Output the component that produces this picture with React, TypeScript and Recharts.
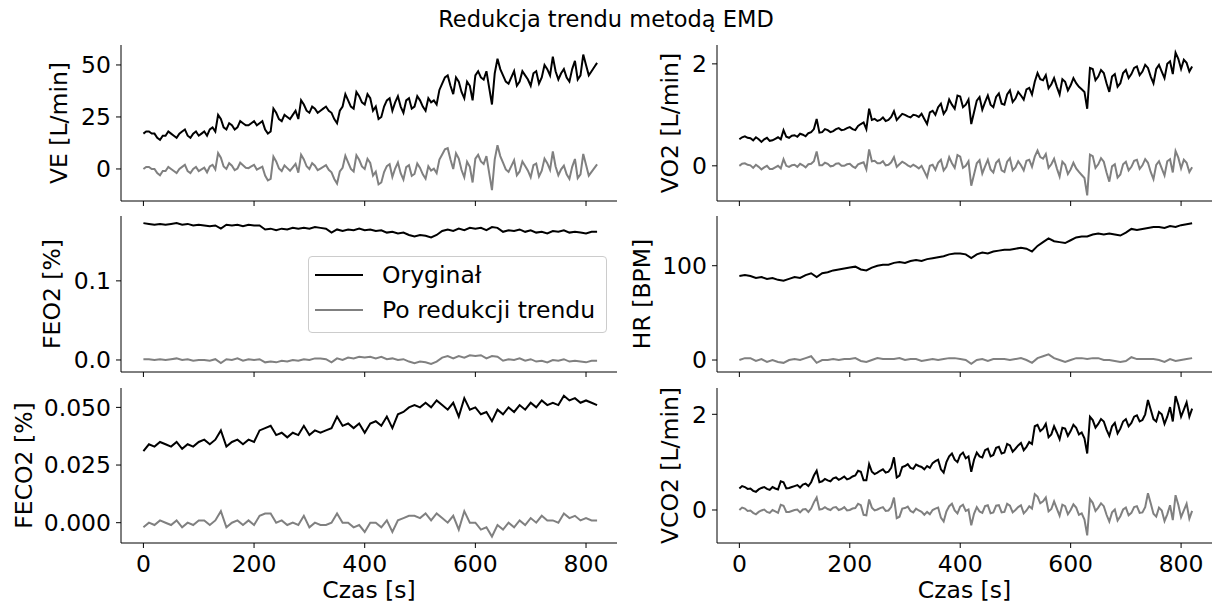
import React from 'react';
import { LineChart, Line, XAxis, YAxis, Legend } from 'recharts';

const FONT = '"DejaVu Sans", sans-serif';

const TITLE = 'Redukcja trendu metodą EMD';
const X_LABEL = 'Czas [s]';
const SERIES_NAMES = ['Oryginał', 'Po redukcji trendu'];
const X_TICKS = [0, 200, 400, 600, 800];

// 10-second sampling (FEO2, HR, FECO2)
const TIME_10 = [
  0, 10, 20, 30, 40, 50, 60, 70, 80, 90,
  100, 110, 120, 130, 140, 150, 160, 170, 180, 190,
  200, 210, 220, 230, 240, 250, 260, 270, 280, 290,
  300, 310, 320, 330, 340, 350, 360, 370, 380, 390,
  400, 410, 420, 430, 440, 450, 460, 470, 480, 490,
  500, 510, 520, 530, 540, 550, 560, 570, 580, 590,
  600, 610, 620, 630, 640, 650, 660, 670, 680, 690,
  700, 710, 720, 730, 740, 750, 760, 770, 780, 790,
  800, 810, 820,
];

// 5-second sampling (VE, VO2, VCO2)
const TIME_5 = [
  0, 5, 10, 15, 20, 25, 30, 35, 40, 45, 50, 55, 60, 65, 70, 75, 80, 85, 90, 95,
  100, 105, 110, 115, 120, 125, 130, 135, 140, 145, 150, 155, 160, 165, 170, 175, 180, 185, 190, 195,
  200, 205, 210, 215, 220, 225, 230, 235, 240, 245, 250, 255, 260, 265, 270, 275, 280, 285, 290, 295,
  300, 305, 310, 315, 320, 325, 330, 335, 340, 345, 350, 355, 360, 365, 370, 375, 380, 385, 390, 395,
  400, 405, 410, 415, 420, 425, 430, 435, 440, 445, 450, 455, 460, 465, 470, 475, 480, 485, 490, 495,
  500, 505, 510, 515, 520, 525, 530, 535, 540, 545, 550, 555, 560, 565, 570, 575, 580, 585, 590, 595,
  600, 605, 610, 615, 620, 625, 630, 635, 640, 645, 650, 655, 660, 665, 670, 675, 680, 685, 690, 695,
  700, 705, 710, 715, 720, 725, 730, 735, 740, 745, 750, 755, 760, 765, 770, 775, 780, 785, 790, 795,
  800, 805, 810, 815, 820,
];

const VE_ORIG = [
  17, 18, 18, 17, 17, 15, 14, 16, 16, 18, 17, 16, 15, 17, 18, 19, 16, 15, 17, 18,
  16, 17, 18, 16, 19, 20, 18, 26, 24, 20, 19, 22, 21, 19, 20, 23, 22, 21, 21, 22,
  23, 21, 22, 23, 19, 17, 18, 29, 27, 24, 23, 26, 25, 24, 26, 28, 24, 33, 31, 28,
  27, 30, 29, 27, 28, 29, 30, 28, 27, 24, 22, 28, 30, 36, 33, 30, 29, 37, 35, 32,
  31, 36, 34, 28, 30, 24, 25, 30, 33, 34, 28, 32, 35, 30, 27, 33, 34, 29, 30, 35,
  33, 30, 28, 34, 32, 33, 31, 38, 41, 44, 45, 40, 36, 44, 42, 37, 34, 42, 40, 33,
  45, 47, 44, 43, 47, 39, 31, 46, 53, 48, 45, 42, 41, 44, 47, 40, 42, 47, 45, 43,
  40, 46, 47, 41, 44, 50, 48, 45, 54, 47, 43, 46, 48, 44, 42, 48, 52, 43, 45, 55,
  50, 45, 47, 49, 51,
];
const VE_DET = [
  0, 1, 1, 0, 0, -2, -3, -1, -1, 1, 0, -1, -2, 0, 1, 2, -1, -2, 0, 1,
  -1, -0.2, 0.6, -1.6, 1.2, 2, -0.2, 7.6, 5.4, 1.2, 0, 2.8, 1.6, -0.6, 0.2, 3, 1.8, 0.6, 0.4, 1.2,
  2, -0.3, 0.4, 1.1, -3.2, -5.5, -4.8, 5.9, 3.6, 0.3, -1, 1.7, 0.4, -0.9, 0.8, 2.5, -1.8, 6.9, 4.6, 1.3,
  0, 2.8, 1.6, -0.6, 0.2, 1, 1.8, -0.4, -1.6, -4.8, -7, -1.2, 0.6, 6.4, 3.2, 0, -1.2, 6.6, 4.4, 1.2,
  0, 4.9, 2.9, -3.2, -1.3, -7.4, -6.5, -1.5, 1.4, 2.3, -3.8, 0.2, 3.1, -2, -5.1, 0.9, 1.8, -3.3, -2.4, 2.6,
  0.5, -2.6, -4.7, 1.3, -0.8, 0.1, -2, 4.5, 7, 9.5, 10, 4.5, 0, 7.5, 5, -0.5, -4, 3.5, 1, -6.5,
  5, 6.8, 3.6, 2.4, 6.2, -2, -10.2, 4.6, 11.4, 6.2, 3, -0.2, -1.4, 1.4, 4.2, -3, -1.2, 3.6, 1.4, -0.8,
  -4, 1.8, 2.6, -3.6, -0.8, 5, 2.8, -0.4, 8.4, 1.2, -3, -0.2, 1.6, -2.6, -4.8, 1, 4.8, -4.4, -2.6, 7.2,
  2, -3.2, -1.4, 0.4, 2.2,
];

const VO2_ORIG = [
  0.52, 0.56, 0.58, 0.55, 0.54, 0.50, 0.56, 0.52, 0.47, 0.52, 0.55, 0.49, 0.50, 0.53, 0.56, 0.52, 0.70, 0.57, 0.55, 0.59,
  0.60, 0.57, 0.63, 0.61, 0.58, 0.64, 0.66, 0.72, 0.92, 0.65, 0.66, 0.72, 0.70, 0.66, 0.68, 0.72, 0.74, 0.70, 0.71, 0.74,
  0.76, 0.72, 0.70, 0.78, 0.82, 0.85, 0.72, 1.12, 0.90, 0.92, 0.88, 0.90, 0.95, 0.88, 0.90, 0.96, 1.07, 0.90, 0.96, 1.02,
  1.00, 0.97, 0.95, 1.00, 0.99, 0.96, 1.02, 0.92, 0.82, 1.05, 1.08, 1.00, 1.15, 1.22, 1.02, 1.10, 1.30, 1.20, 1.12, 1.38,
  1.36, 1.15, 1.20, 1.30, 0.82, 1.05, 1.28, 1.35, 1.10, 1.25, 1.38, 1.20, 1.15, 1.35, 1.42, 1.22, 1.20, 1.40, 1.48, 1.25,
  1.32, 1.45, 1.38, 1.30, 1.50, 1.53, 1.40, 1.65, 1.82, 1.70, 1.68, 1.78, 1.52, 1.60, 1.72, 1.55, 1.40, 1.70, 1.65, 1.48,
  1.58, 1.72, 1.62, 1.55, 1.50, 1.45, 1.12, 1.92, 1.90, 1.68, 1.75, 1.88, 1.82, 1.62, 1.45, 1.75, 1.80, 1.55, 1.62, 1.82,
  1.88, 1.72, 1.80, 1.92, 1.95, 1.78, 1.85, 1.98, 1.92, 1.75, 1.62, 1.90, 1.98, 1.85, 1.72, 2.00, 2.05, 1.80, 2.22, 2.10,
  1.90, 2.08, 2.02, 1.85, 1.95,
];
const VO2_DET = [
  0.00, 0.04, 0.05, 0.02, 0.01, -0.04, 0.02, -0.02, -0.07, -0.03, 0.00, -0.06, -0.06, -0.03, 0.00, -0.05, 0.13, 0.00, -0.02, 0.01,
  0.02, -0.02, 0.04, 0.01, -0.03, 0.03, 0.04, 0.09, 0.28, 0.01, 0.01, 0.06, 0.04, -0.01, 0.00, 0.04, 0.05, 0.00, 0.00, 0.03,
  0.04, -0.01, -0.04, 0.03, 0.05, 0.07, -0.07, 0.32, 0.09, 0.10, 0.05, 0.05, 0.09, 0.01, 0.02, 0.07, 0.17, -0.02, 0.03, 0.08,
  0.05, 0.01, -0.02, 0.02, -0.01, -0.05, 0.00, -0.11, -0.22, 0.00, 0.02, -0.08, 0.06, 0.12, -0.09, -0.02, 0.17, 0.05, -0.04, 0.21,
  0.18, -0.04, 0.00, 0.09, -0.39, -0.17, 0.05, 0.11, -0.15, -0.01, 0.12, -0.07, -0.13, 0.06, 0.12, -0.09, -0.12, 0.08, 0.15, -0.09,
  -0.03, 0.09, 0.01, -0.09, 0.10, 0.12, -0.02, 0.18, 0.30, 0.17, 0.14, 0.23, -0.04, 0.03, 0.14, -0.05, -0.21, 0.08, 0.02, -0.16,
  -0.07, 0.06, -0.05, -0.12, -0.18, -0.24, -0.58, 0.22, 0.19, -0.04, 0.03, 0.15, 0.08, -0.13, -0.31, -0.01, 0.03, -0.23, -0.17, 0.03,
  0.08, -0.09, -0.02, 0.10, 0.12, -0.06, 0.01, 0.13, 0.06, -0.12, -0.26, 0.02, 0.09, -0.05, -0.19, 0.09, 0.13, -0.13, 0.29, 0.16,
  -0.05, 0.12, 0.06, -0.12, -0.03,
];

const VCO2_ORIG = [
  0.45, 0.50, 0.48, 0.44, 0.45, 0.40, 0.38, 0.43, 0.46, 0.48, 0.44, 0.42, 0.48, 0.45, 0.43, 0.60, 0.58, 0.45, 0.46, 0.48,
  0.50, 0.52, 0.47, 0.53, 0.55, 0.50, 0.58, 0.72, 0.82, 0.58, 0.60, 0.65, 0.62, 0.60, 0.66, 0.68, 0.63, 0.66, 0.70, 0.64,
  0.66, 0.70, 0.72, 0.82, 0.80, 0.62, 0.62, 0.96, 0.80, 0.75, 0.78, 0.82, 0.85, 0.78, 0.80, 0.88, 1.10, 0.68, 0.72, 0.90,
  0.92, 0.96, 0.88, 0.86, 0.95, 0.92, 0.90, 0.85, 0.92, 0.88, 0.98, 1.02, 1.05, 0.85, 0.78, 1.00, 1.12, 1.18, 1.05, 1.00,
  1.15, 1.20, 1.08, 1.12, 0.80, 1.05, 1.20, 1.12, 1.10, 1.25, 1.28, 1.12, 1.15, 1.30, 1.32, 1.18, 1.20, 1.38, 1.35, 1.22,
  1.28, 1.35, 1.40, 1.25, 1.32, 1.42, 1.38, 1.75, 1.78, 1.65, 1.70, 1.80, 1.52, 1.58, 1.75, 1.62, 1.48, 1.72, 1.70, 1.55,
  1.65, 1.78, 1.72, 1.58, 1.62, 1.50, 1.18, 1.95, 1.88, 1.72, 1.80, 1.90, 1.85, 1.68, 1.55, 1.75, 1.82, 1.60, 1.70, 1.85,
  1.90, 1.75, 1.82, 1.95, 1.98, 1.85, 1.88, 2.00, 2.30, 2.10, 1.90, 1.85, 2.05, 2.00, 1.80, 1.95, 2.15, 1.85, 2.38, 2.20,
  1.95, 2.10, 2.25, 1.95, 2.12,
];
const VCO2_DET = [
  0.00, 0.05, 0.03, -0.02, -0.01, -0.06, -0.09, -0.04, -0.01, 0.01, -0.04, -0.06, 0.00, -0.03, -0.06, 0.11, 0.09, -0.04, -0.04, -0.02,
  0.00, 0.01, -0.05, 0.01, 0.02, -0.04, 0.03, 0.16, 0.26, 0.01, 0.02, 0.06, 0.02, 0.00, 0.05, 0.06, 0.00, 0.02, 0.06, -0.01,
  0.00, 0.03, 0.04, 0.13, 0.10, -0.10, -0.11, 0.22, 0.05, -0.01, 0.01, 0.04, 0.06, -0.02, -0.01, 0.06, 0.26, -0.17, -0.14, 0.03,
  0.04, 0.07, -0.02, -0.05, 0.03, -0.01, -0.04, -0.10, -0.04, -0.09, 0.00, 0.03, 0.05, -0.16, -0.24, -0.03, 0.08, 0.13, -0.01, -0.07,
  0.07, 0.11, -0.02, 0.01, -0.32, -0.08, 0.06, -0.03, -0.06, 0.08, 0.10, -0.07, -0.05, 0.09, 0.10, -0.05, -0.04, 0.13, 0.09, -0.05,
  0.00, 0.06, 0.10, -0.07, -0.01, 0.08, 0.03, 0.33, 0.28, 0.14, 0.18, 0.26, -0.03, 0.02, 0.18, 0.03, -0.12, 0.11, 0.08, -0.09,
  0.00, 0.12, 0.05, -0.10, -0.07, -0.20, -0.53, 0.23, 0.15, -0.02, 0.05, 0.14, 0.08, -0.10, -0.24, -0.05, 0.01, -0.22, -0.13, 0.01,
  0.05, -0.11, -0.06, 0.06, 0.08, -0.06, -0.05, 0.06, 0.35, 0.14, -0.08, -0.14, 0.05, -0.01, -0.23, -0.09, 0.10, -0.21, 0.31, 0.11,
  -0.15, -0.01, 0.13, -0.18, -0.02,
];

const FEO2_ORIG = [
  0.173, 0.172, 0.171, 0.172, 0.171, 0.172, 0.173, 0.171, 0.172, 0.170,
  0.171, 0.170, 0.169, 0.170, 0.166, 0.171, 0.170, 0.171, 0.169, 0.171,
  0.170, 0.170, 0.165, 0.166, 0.164, 0.166, 0.165, 0.167, 0.166, 0.167,
  0.166, 0.168, 0.167, 0.166, 0.161, 0.165, 0.163, 0.165, 0.164, 0.166,
  0.164, 0.165, 0.163, 0.164, 0.161, 0.162, 0.160, 0.161, 0.158, 0.156,
  0.158, 0.157, 0.155, 0.158, 0.163, 0.165, 0.163, 0.166, 0.164, 0.167,
  0.166, 0.167, 0.164, 0.168, 0.167, 0.162, 0.164, 0.163, 0.165, 0.162,
  0.164, 0.161, 0.162, 0.160, 0.163, 0.162, 0.164, 0.161, 0.162, 0.161,
  0.160, 0.162, 0.162,
];
const FEO2_DET = [
  0.001, 0.001, 0.000, 0.001, 0.000, 0.001, 0.002, 0.000, 0.001, -0.001,
  0.000, 0.000, -0.001, 0.001, -0.004, 0.001, 0.000, 0.002, -0.001, 0.001,
  0.000, 0.001, -0.003, -0.002, -0.003, -0.001, -0.002, 0.000, -0.001, 0.001,
  0.000, 0.002, 0.002, 0.001, -0.003, 0.002, 0.000, 0.003, 0.002, 0.004,
  0.003, 0.004, 0.002, 0.004, 0.001, 0.002, 0.000, 0.001, -0.002, -0.004,
  -0.002, -0.003, -0.005, -0.002, 0.003, 0.005, 0.002, 0.005, 0.003, 0.006,
  0.005, 0.006, 0.002, 0.005, 0.004, -0.001, 0.001, 0.000, 0.002, -0.001,
  0.001, -0.002, -0.001, -0.003, 0.000, -0.001, 0.001, -0.002, -0.001, -0.002,
  -0.003, -0.001, -0.001,
];

const HR_ORIG = [
  89, 90, 89, 87, 88, 86, 87, 85, 84, 86,
  88, 87, 90, 92, 88, 92, 93, 95, 96, 97,
  98, 99, 96, 95, 98, 100, 101, 101, 103, 104,
  103, 105, 106, 105, 107, 108, 109, 110, 112, 113,
  113, 112, 108, 112, 114, 113, 115, 116, 117, 117,
  118, 119, 118, 115, 121, 125, 129, 126, 125, 124,
  127, 130, 131, 131, 133, 134, 133, 134, 133, 132,
  135, 139, 138, 139, 140, 141, 141, 140, 142, 141,
  143, 144, 145,
];
const HR_DET = [
  0, 2, 2, -1, 1, -2, 0, -2, -3, 0,
  1, 0, 2, 4, -3, 0, 0, 1, 0, 1,
  1, 2, -1, -2, 0, 2, 1, 1, 1, 2,
  0, 1, 1, -1, 0, 1, 0, 1, 2, 2,
  1, 0, -4, 0, 1, -1, 1, 1, 1, 0,
  1, 2, 0, -3, 2, 4, 6, 2, 0, -2,
  0, 2, 2, 1, 2, 2, 0, 0, -1, -2,
  -1, 3, 1, 1, 1, 1, 0, -2, 1, -1,
  0, 1, 2,
];

const FECO2_ORIG = [
  0.031, 0.034, 0.033, 0.035, 0.034, 0.033, 0.035, 0.032, 0.034, 0.033,
  0.035, 0.036, 0.034, 0.036, 0.040, 0.033, 0.035, 0.036, 0.034, 0.036,
  0.035, 0.040, 0.041, 0.042, 0.038, 0.039, 0.037, 0.039, 0.038, 0.042,
  0.038, 0.040, 0.039, 0.040, 0.041, 0.046, 0.042, 0.043, 0.041, 0.043,
  0.039, 0.043, 0.044, 0.042, 0.046, 0.041, 0.047, 0.048, 0.050, 0.051,
  0.050, 0.052, 0.050, 0.053, 0.051, 0.049, 0.052, 0.046, 0.054, 0.049,
  0.050, 0.047, 0.048, 0.044, 0.049, 0.047, 0.050, 0.048, 0.051, 0.049,
  0.052, 0.050, 0.053, 0.051, 0.052, 0.051, 0.055, 0.053, 0.054, 0.052,
  0.053, 0.052, 0.051,
];
const FECO2_DET = [
  -0.002, 0.000, -0.001, 0.001, 0.000, -0.001, 0.001, -0.002, 0.000, -0.001,
  0.001, 0.001, -0.001, 0.001, 0.005, -0.002, 0.000, 0.001, -0.001, 0.001,
  -0.001, 0.003, 0.004, 0.004, 0.000, 0.001, -0.001, 0.000, -0.001, 0.003,
  -0.002, 0.000, -0.001, -0.001, 0.000, 0.004, 0.000, 0.000, -0.002, -0.001,
  -0.004, 0.000, 0.000, -0.002, 0.001, -0.004, 0.001, 0.002, 0.003, 0.003,
  0.002, 0.004, 0.001, 0.004, 0.002, 0.000, 0.003, -0.003, 0.005, 0.000,
  0.000, -0.003, -0.002, -0.006, -0.001, -0.003, 0.000, -0.002, 0.001, -0.001,
  0.002, 0.000, 0.003, 0.001, 0.001, 0.000, 0.004, 0.002, 0.003, 0.001,
  0.002, 0.001, 0.001,
];

const VE_TICKS = [0, 25, 50];
const VO2_TICKS = [0, 2];
const FEO2_TICKS = [0, 0.1];
const HR_TICKS = [0, 100];
const FECO2_TICKS = [0, 0.025, 0.05];
const VCO2_TICKS = [0, 2];

const X_DOMAIN: [number, number] = [-40.5, 856];
const TICK_FS = 23.5;
const LABEL_FS = 23.5;
const TITLE_FS = 22.5;
const LEGEND_FS = 23.5;

type PanelDef = {
  key: string;
  label: string;
  time: number[];
  orig: number[];
  det: number[];
  ticks: number[];
  domain: [number, number];
  dec: number;
  col: 0 | 1;
  row: 0 | 1 | 2;
  labelX: number;
  legend?: boolean;
};

const PANELS: PanelDef[] = [
  { key: 've', label: 'VE [L/min]', time: TIME_5, orig: VE_ORIG, det: VE_DET, ticks: VE_TICKS, domain: [-15.4, 59.6], dec: 0, col: 0, row: 0, labelX: 59 },
  { key: 'vo2', label: 'VO2 [L/min]', time: TIME_5, orig: VO2_ORIG, det: VO2_DET, ticks: VO2_TICKS, domain: [-0.69, 2.37], dec: 0, col: 1, row: 0, labelX: 670 },
  { key: 'feo2', label: 'FEO2 [%]', time: TIME_10, orig: FEO2_ORIG, det: FEO2_DET, ticks: FEO2_TICKS, domain: [-0.0152, 0.182], dec: 1, col: 0, row: 1, labelX: 52, legend: true },
  { key: 'hr', label: 'HR [BPM]', time: TIME_10, orig: HR_ORIG, det: HR_DET, ticks: HR_TICKS, domain: [-12.7, 152.7], dec: 0, col: 1, row: 1, labelX: 642 },
  { key: 'feco2', label: 'FECO2 [%]', time: TIME_10, orig: FECO2_ORIG, det: FECO2_DET, ticks: FECO2_TICKS, domain: [-0.0088, 0.0584], dec: 3, col: 0, row: 2, labelX: 24 },
  { key: 'vco2', label: 'VCO2 [L/min]', time: TIME_5, orig: VCO2_ORIG, det: VCO2_DET, ticks: VCO2_TICKS, domain: [-0.69, 2.55], dec: 0, col: 1, row: 2, labelX: 670 },
];

const ROW_TOP = [45, 216, 388];
const ROW_H = [156, 156, 155];
const COL_LEFT = [0, 600];
const COL_W = [617, 612];
const COL_YW = [121, 117];
const COL_CENTER = [369, 964.5];

const renderLegend = (props: any) => {
  const payload: any[] = props && props.payload && props.payload.length ? props.payload : [];
  const items = payload.length
    ? payload.map((e) => ({ value: e.value, color: e.color }))
    : [{ value: SERIES_NAMES[0], color: '#000000' }, { value: SERIES_NAMES[1], color: '#808080' }];
  return (
    <div
      style={{
        width: 297,
        height: 75,
        border: '1px solid #cccccc',
        borderRadius: 4,
        background: 'rgba(255,255,255,0.8)',
        position: 'relative',
        fontFamily: FONT,
      }}
    >
      {items.map((e, i) => (
        <div
          key={i}
          style={{ position: 'absolute', left: 0, top: i === 0 ? 5 : 40, height: 26, display: 'flex', alignItems: 'center' }}
        >
          <div style={{ marginLeft: 6, width: 48, height: 2, background: e.color }} />
          <span style={{ marginLeft: 19, fontSize: LEGEND_FS, color: '#000', lineHeight: '26px', whiteSpace: 'nowrap' }}>{e.value}</span>
        </div>
      ))}
    </div>
  );
};

function Panel({ p }: { p: PanelDef }) {
  const data = p.time.map((t, i) => ({ t, orig: p.orig[i], det: p.det[i] }));
  const bottom = p.row === 2;
  const xh = bottom ? 64 : 6;
  const w = COL_W[p.col];
  const h = ROW_H[p.row] + xh;
  const left = COL_LEFT[p.col];
  const top = ROW_TOP[p.row];
  return (
    <div style={{ position: 'absolute', left, top, width: w, height: h }}>
      <LineChart width={w} height={h} data={data} margin={{ top: 0, right: 0, bottom: 0, left: 0 }}>
        <XAxis
          dataKey="t"
          type="number"
          domain={X_DOMAIN}
          ticks={X_TICKS}
          interval={0}
          allowDataOverflow
          height={xh}
          tickSize={5}
          tickMargin={7}
          axisLine={{ stroke: '#000', strokeWidth: 1 }}
          tickLine={{ stroke: '#000', strokeWidth: 1 }}
          tick={bottom ? { fill: '#000', fontSize: TICK_FS, fontFamily: FONT } : () => <g />}
        />
        <YAxis
          type="number"
          domain={p.domain}
          ticks={p.ticks}
          interval={0}
          allowDataOverflow
          width={COL_YW[p.col]}
          tickSize={5}
          tickMargin={5}
          tickFormatter={(v: number) => v.toFixed(p.dec)}
          axisLine={{ stroke: '#000', strokeWidth: 1 }}
          tickLine={{ stroke: '#000', strokeWidth: 1 }}
          tick={{ fill: '#000', fontSize: TICK_FS, fontFamily: FONT }}
        />
        <Line
          type="linear"
          dataKey="orig"
          name={SERIES_NAMES[0]}
          stroke="#000000"
          strokeWidth={2}
          dot={false}
          activeDot={false}
          isAnimationActive={false}
        />
        <Line
          type="linear"
          dataKey="det"
          name={SERIES_NAMES[1]}
          stroke="#808080"
          strokeWidth={2}
          dot={false}
          activeDot={false}
          isAnimationActive={false}
        />
        {p.legend && (
          <Legend
            layout="vertical"
            align="center"
            verticalAlign="middle"
            content={renderLegend}
            wrapperStyle={{ position: 'absolute', left: 308, top: 40, width: 299, height: 77 }}
          />
        )}
      </LineChart>
    </div>
  );
}

export default function App() {
  return (
    <div
      style={{
        position: 'absolute',
        left: 0,
        top: 0,
        width: 1212,
        height: 607,
        background: '#ffffff',
        overflow: 'hidden',
        fontFamily: FONT,
      }}
    >
      {PANELS.map((p) => (
        <Panel key={p.key} p={p} />
      ))}
      <svg
        width={1212}
        height={607}
        style={{ position: 'absolute', left: 0, top: 0, pointerEvents: 'none' }}
      >
        <text x={606} y={27} textAnchor="middle" fontFamily={FONT} fontSize={TITLE_FS} fill="#000">
          {TITLE}
        </text>
        {PANELS.map((p) => {
          const cy = ROW_TOP[p.row] + ROW_H[p.row] / 2;
          return (
            <text
              key={p.key}
              x={p.labelX}
              y={cy}
              transform={`rotate(-90 ${p.labelX} ${cy})`}
              textAnchor="middle"
              dominantBaseline="central"
              fontFamily={FONT}
              fontSize={LABEL_FS}
              fill="#000"
            >
              {p.label}
            </text>
          );
        })}
        {[0, 1].map((c) => (
          <text key={c} x={COL_CENTER[c]} y={598} textAnchor="middle" fontFamily={FONT} fontSize={LABEL_FS} fill="#000">
            {X_LABEL}
          </text>
        ))}
      </svg>
    </div>
  );
}
